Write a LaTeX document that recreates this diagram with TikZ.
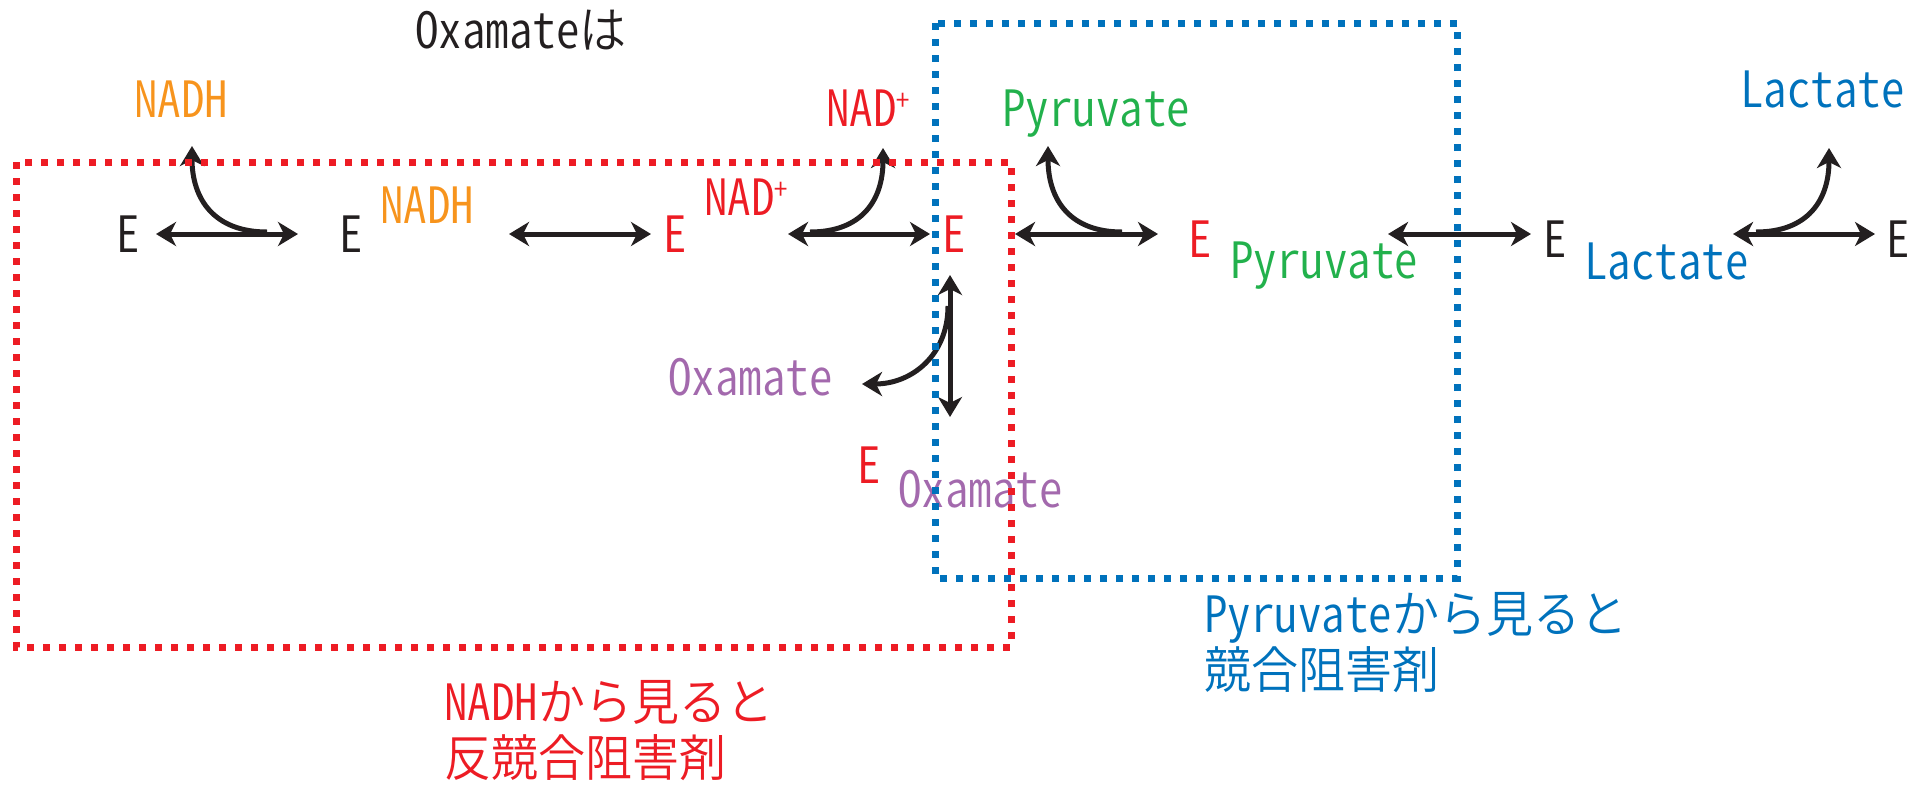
\documentclass[tikz,border=0pt]{standalone}
\usepackage{fontspec}
\usetikzlibrary{arrows.meta}
\IfFontExistsTF{Noto Sans CJK JP DemiLight}
  {\newfontfamily\jp[RawFeature=+hwid,FakeStretch=0.94]{Noto Sans CJK JP DemiLight}}
  {\newfontfamily\jp[RawFeature=+hwid,FakeStretch=0.94]{Noto Sans CJK JP}}
\definecolor{ink}{HTML}{231F20}
\definecolor{cred}{HTML}{ED1C24}
\definecolor{corange}{HTML}{F7941D}
\definecolor{cgreen}{HTML}{22B14C}
\definecolor{cblue}{HTML}{0072BC}
\definecolor{cpurple}{HTML}{A369AD}
\newcommand{\plussup}{{\fontsize{28}{28}\selectfont\raisebox{16pt}{+}}}
\begin{document}
\begin{tikzpicture}[x=1pt,y=1pt,
  lbl/.style={inner sep=0pt, font=\jp\fontsize{50}{56}\selectfont},
  enz/.style={lbl, anchor=base},
  txt/.style={lbl, anchor=base west},
  tipa/.tip={Stealth[length=20pt,width=24pt,inset=6pt]},
  rxn/.style={line width=5pt, draw=ink, tipa-tipa},
  curvearrow/.style={line width=5pt, draw=ink, -tipa},
  dotbox/.style={line width=7pt, dash pattern=on 7pt off 9pt}]
\useasboundingbox (0,0) rectangle (1929,-785);

% texts
\node[txt, text=ink] (title) at (415,-48) {Oxamateは};
\node[txt, text=corange] (nadhTop) at (134,-117) {NADH};
\node[enz, text=ink] (e1) at (128,-252) {E};
\node[enz, text=ink] (e2) at (351,-252) {E};
\node[txt, text=corange] (nadhSup) at (380,-223) {NADH};
\node[enz, text=cred] (e3) at (675,-252) {E};
\node[txt, text=cred] (nadSup) at (704,-215) {NAD\plussup};
\node[txt, text=cred] (nadTop) at (826,-126) {NAD\plussup};
\node[enz, text=cred] (e4) at (954,-252) {E};
\node[txt, text=cgreen] (pyrTop) at (1002,-126) {Pyruvate};
\node[enz, text=cred] (e5) at (1200,-257) {E};
\node[txt, text=cgreen] (pyrSub) at (1230,-278) {Pyruvate};
\node[enz, text=ink] (e6) at (1555,-257) {E};
\node[txt, text=cblue] (lacSub) at (1584,-279) {Lactate};
\node[enz, text=ink] (e7) at (1898,-257) {E};
\node[txt, text=cblue] (lacTop) at (1740,-107) {Lactate};
\node[txt, text=cpurple] (oxaLeft) at (668,-395) {Oxamate};
\node[enz, text=cred] (e8) at (869,-483) {E};
\node[txt, text=cpurple] (oxaSub) at (898,-507) {Oxamate};
\node[txt, text=cred] (capRed1) at (444,-720) {NADHから見ると};
\node[txt, text=cred] (capRed2) at (444,-776) {反競合阻害剤};
\node[txt, text=cblue] (capBlue1) at (1204,-632) {Pyruvateから見ると};
\node[txt, text=cblue] (capBlue2) at (1204,-688) {競合阻害剤};

% arrow end points
\coordinate (a1l) at (156,-234);  \coordinate (a1r) at (298,-234);
\coordinate (a2l) at (509,-234);  \coordinate (a2r) at (651,-234);
\coordinate (a3l) at (788,-234);  \coordinate (a3r) at (930,-234);
\coordinate (a4l) at (1015,-234); \coordinate (a4r) at (1158,-234);
\coordinate (a5l) at (1388,-234); \coordinate (a5r) at (1531,-234);
\coordinate (a6l) at (1733,-234); \coordinate (a6r) at (1875,-234);
\coordinate (vt) at (950,-275);   \coordinate (vb) at (950,-417);

\coordinate (c1s) at (267,-232);  \coordinate (c1e) at (192,-146);
\coordinate (c3s) at (810,-232);  \coordinate (c3e) at (883,-148);
\coordinate (c4s) at (1122,-232); \coordinate (c4e) at (1048,-146);
\coordinate (c6s) at (1756,-232); \coordinate (c6e) at (1829,-148);
\coordinate (cos) at (948,-306);  \coordinate (coe) at (862,-384);

\draw[rxn] (a1l) -- (a1r);
\draw[rxn] (a2l) -- (a2r);
\draw[rxn] (a3l) -- (a3r);
\draw[rxn] (a4l) -- (a4r);
\draw[rxn] (a5l) -- (a5r);
\draw[rxn] (a6l) -- (a6r);
\draw[rxn] (vt) -- (vb);

\draw[curvearrow] (c1s) .. controls (215,-232) and (192,-200) .. (c1e);
\draw[curvearrow] (c3s) .. controls (862,-232) and (883,-200) .. (c3e);
\draw[curvearrow] (c4s) .. controls (1070,-232) and (1048,-200) .. (c4e);
\draw[curvearrow] (c6s) .. controls (1808,-232) and (1829,-200) .. (c6e);
\draw[curvearrow] (cos) .. controls (948,-355) and (912,-384) .. (coe);

% boxes
\draw[dotbox, draw=cblue] (935,-23) rectangle (1457,-578);
\draw[dotbox, draw=cred] (16,-162) rectangle (1011,-647);
\end{tikzpicture}
\end{document}
